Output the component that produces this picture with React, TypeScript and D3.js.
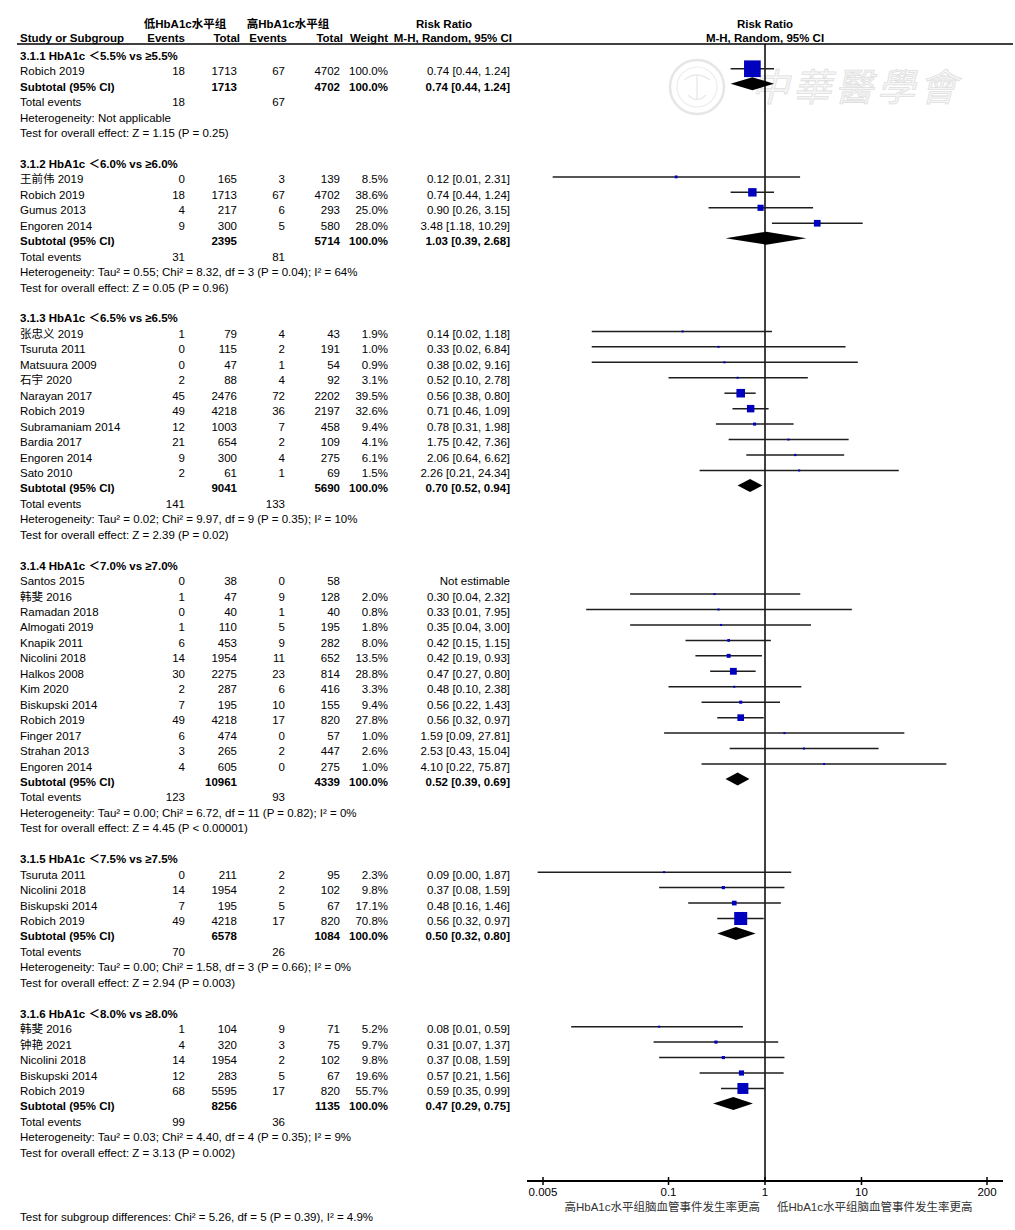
import React from "react";
import * as d3 from "d3";

// ---------- DATA ----------
const subgroupTitles = [
  "3.1.1 HbA1c ＜5.5% vs ≥5.5%",
  "3.1.2 HbA1c ＜6.0% vs ≥6.0%",
  "3.1.3 HbA1c ＜6.5% vs ≥6.5%",
  "3.1.4 HbA1c ＜7.0% vs ≥7.0%",
  "3.1.5 HbA1c ＜7.5% vs ≥7.5%",
  "3.1.6 HbA1c ＜8.0% vs ≥8.0%",
];

const studyGroup = [
  0,
  1, 1, 1, 1,
  2, 2, 2, 2, 2, 2, 2, 2, 2, 2,
  3, 3, 3, 3, 3, 3, 3, 3, 3, 3, 3, 3, 3,
  4, 4, 4, 4,
  5, 5, 5, 5, 5,
];

const studyNames = [
  "Robich 2019",
  "王前伟 2019", "Robich 2019", "Gumus 2013", "Engoren 2014",
  "张忠义 2019", "Tsuruta 2011", "Matsuura 2009", "石宇 2020", "Narayan 2017",
  "Robich 2019", "Subramaniam 2014", "Bardia 2017", "Engoren 2014", "Sato 2010",
  "Santos 2015", "韩斐 2016", "Ramadan 2018", "Almogati 2019", "Knapik 2011",
  "Nicolini 2018", "Halkos 2008", "Kim 2020", "Biskupski 2014", "Robich 2019",
  "Finger 2017", "Strahan 2013", "Engoren 2014",
  "Tsuruta 2011", "Nicolini 2018", "Biskupski 2014", "Robich 2019",
  "韩斐 2016", "钟艳 2021", "Nicolini 2018", "Biskupski 2014", "Robich 2019",
];

const lowEvents = [
  18,
  0, 18, 4, 9,
  1, 0, 0, 2, 45, 49, 12, 21, 9, 2,
  0, 1, 0, 1, 6, 14, 30, 2, 7, 49, 6, 3, 4,
  0, 14, 7, 49,
  1, 4, 14, 12, 68,
];
const lowTotals = [
  1713,
  165, 1713, 217, 300,
  79, 115, 47, 88, 2476, 4218, 1003, 654, 300, 61,
  38, 47, 40, 110, 453, 1954, 2275, 287, 195, 4218, 474, 265, 605,
  211, 1954, 195, 4218,
  104, 320, 1954, 283, 5595,
];
const highEvents = [
  67,
  3, 67, 6, 5,
  4, 2, 1, 4, 72, 36, 7, 2, 4, 1,
  0, 9, 1, 5, 9, 11, 23, 6, 10, 17, 0, 2, 0,
  2, 2, 5, 17,
  9, 3, 2, 5, 17,
];
const highTotals = [
  4702,
  139, 4702, 293, 580,
  43, 191, 54, 92, 2202, 2197, 458, 109, 275, 69,
  58, 128, 40, 195, 282, 652, 814, 416, 155, 820, 57, 447, 275,
  95, 102, 67, 820,
  71, 75, 102, 67, 820,
];
// null = not estimable
const weights: (number | null)[] = [
  100.0,
  8.5, 38.6, 25.0, 28.0,
  1.9, 1.0, 0.9, 3.1, 39.5, 32.6, 9.4, 4.1, 6.1, 1.5,
  null, 2.0, 0.8, 1.8, 8.0, 13.5, 28.8, 3.3, 9.4, 27.8, 1.0, 2.6, 1.0,
  2.3, 9.8, 17.1, 70.8,
  5.2, 9.7, 9.8, 19.6, 55.7,
];
const riskRatio: (number | null)[] = [
  0.74,
  0.12, 0.74, 0.90, 3.48,
  0.14, 0.33, 0.38, 0.52, 0.56, 0.71, 0.78, 1.75, 2.06, 2.26,
  null, 0.30, 0.33, 0.35, 0.42, 0.42, 0.47, 0.48, 0.56, 0.56, 1.59, 2.53, 4.10,
  0.09, 0.37, 0.48, 0.56,
  0.08, 0.31, 0.37, 0.57, 0.59,
];
const ciLower: (number | null)[] = [
  0.44,
  0.0063, 0.44, 0.26, 1.18,
  0.016, 0.016, 0.016, 0.10, 0.38, 0.46, 0.31, 0.42, 0.64, 0.21,
  null, 0.04, 0.014, 0.04, 0.15, 0.19, 0.27, 0.10, 0.22, 0.32, 0.09, 0.43, 0.22,
  0.0044, 0.08, 0.16, 0.32,
  0.0098, 0.07, 0.08, 0.21, 0.35,
];
const ciUpper: (number | null)[] = [
  1.24,
  2.31, 1.24, 3.15, 10.29,
  1.18, 6.84, 9.16, 2.78, 0.80, 1.09, 1.98, 7.36, 6.62, 24.34,
  null, 2.32, 7.95, 3.00, 1.15, 0.93, 0.80, 2.38, 1.43, 0.97, 27.81, 15.04, 75.87,
  1.87, 1.59, 1.46, 0.97,
  0.59, 1.37, 1.59, 1.56, 0.99,
];

const subLowTotals = [1713, 2395, 9041, 10961, 6578, 8256];
const subHighTotals = [4702, 5714, 5690, 4339, 1084, 1135];
const subRR = [0.74, 1.03, 0.70, 0.52, 0.50, 0.47];
const subLower = [0.44, 0.39, 0.52, 0.39, 0.32, 0.29];
const subUpper = [1.24, 2.68, 0.94, 0.69, 0.80, 0.75];
const subLowEvents = [18, 31, 141, 123, 70, 99];
const subHighEvents = [67, 81, 133, 93, 26, 36];
const heterogeneity = [
  "Heterogeneity: Not applicable",
  "Heterogeneity: Tau² = 0.55; Chi² = 8.32, df = 3 (P = 0.04); I² = 64%",
  "Heterogeneity: Tau² = 0.02; Chi² = 9.97, df = 9 (P = 0.35); I² = 10%",
  "Heterogeneity: Tau² = 0.00; Chi² = 6.72, df = 11 (P = 0.82); I² = 0%",
  "Heterogeneity: Tau² = 0.00; Chi² = 1.58, df = 3 (P = 0.66); I² = 0%",
  "Heterogeneity: Tau² = 0.03; Chi² = 4.40, df = 4 (P = 0.35); I² = 9%",
];
const overallEffect = [
  "Test for overall effect: Z = 1.15 (P = 0.25)",
  "Test for overall effect: Z = 0.05 (P = 0.96)",
  "Test for overall effect: Z = 2.39 (P = 0.02)",
  "Test for overall effect: Z = 4.45 (P < 0.00001)",
  "Test for overall effect: Z = 2.94 (P = 0.003)",
  "Test for overall effect: Z = 3.13 (P = 0.002)",
];
const subgroupDifferences = "Test for subgroup differences: Chi² = 5.26, df = 5 (P = 0.39), I² = 4.9%";

const axisTicks = [0.005, 0.1, 1, 10, 200];
const axisTickLabels = ["0.005", "0.1", "1", "10", "200"];
const groupHeaderLow = "低HbA1c水平组";
const groupHeaderHigh = "高HbA1c水平组";
const favoursLeft = "高HbA1c水平组脑血管事件发生率更高";
const favoursRight = "低HbA1c水平组脑血管事件发生率更高";
const watermarkText = "中華醫學會";

// ---------- LAYOUT ----------
const W = 1015;
const H = 1230;
const FONT = "'Liberation Sans', Arial, 'Noto Sans CJK SC', sans-serif";
const FS = 11.5;
const ROW0 = 55.8;
const STEP = 15.45;
const rowC = (i: number) => ROW0 + i * STEP;
const COL = { name: 20, e1: 185, t1: 237, e2: 285, t2: 340, w: 388, rr: 509 };
const AXIS_Y = 1181;
const HEADER_LINE_Y = 44;
const HEAD1 = 23.5;
const HEAD2 = 37.5;

const x = d3.scaleLog().domain([0.005, 200]).range([543, 987]);

const fmtCI = (r: number, l: number, u: number) =>
  `${r.toFixed(2)} [${l.toFixed(2)}, ${u.toFixed(2)}]`;

type Row =
  | { kind: "title"; i: number; g: number }
  | { kind: "study"; i: number; s: number }
  | { kind: "subtotal"; i: number; g: number }
  | { kind: "events"; i: number; g: number }
  | { kind: "het"; i: number; g: number }
  | { kind: "test"; i: number; g: number };

function buildRows(): Row[] {
  const rows: Row[] = [];
  let idx = 0;
  subgroupTitles.forEach((_, g) => {
    rows.push({ kind: "title", i: idx++, g });
    studyGroup.forEach((sg, s) => {
      if (sg === g) rows.push({ kind: "study", i: idx++, s });
    });
    rows.push({ kind: "subtotal", i: idx++, g });
    rows.push({ kind: "events", i: idx++, g });
    rows.push({ kind: "het", i: idx++, g });
    rows.push({ kind: "test", i: idx++, g });
    idx++; // blank
  });
  return rows;
}

const boxSide = (w: number) => Math.max(2, 16.7 * Math.pow(w / 100, 0.72));

function Txt(props: {
  x: number; y: number; children: React.ReactNode; anchor?: string; bold?: boolean; size?: number; fill?: string;
}) {
  const { x: tx, y, children, anchor = "start", bold = false, size = FS, fill = "#000" } = props;
  return (
    <text x={tx} y={y + 4} textAnchor={anchor} fontWeight={bold ? "bold" : "normal"} fontSize={size} fill={fill}>
      {children}
    </text>
  );
}

export default function App() {
  const rows = buildRows();
  const x1 = x(1);
  const lastIdx = rows[rows.length - 1].i;

  return (
    <svg
      width={W}
      height={H}
      viewBox={`0 0 ${W} ${H}`}
      style={{ position: "absolute", left: 0, top: 0, display: "block", background: "#fff" }}
      fontFamily={FONT}
    >
      <rect x={0} y={0} width={W} height={H} fill="#fff" />

      {/* watermark */}
      <g>
        <circle cx={697} cy={87} r={27} fill="none" stroke="#e6e6e6" strokeWidth={2.5} />
        <circle cx={697} cy={87} r={20} fill="none" stroke="#ececec" strokeWidth={1.2} />
        <path d="M684,80 Q697,70 710,80 M688,95 Q697,104 706,95 M697,74 L697,100" fill="none" stroke="#eaeaea" strokeWidth={1.5} />
        <text x={856} y={101} textAnchor="middle" fontSize={38} fill="#f6f6f6" stroke="#e0e0e0" strokeWidth={0.8}
          fontStyle="italic" fontFamily="'Noto Sans CJK TC', 'Noto Sans CJK SC', sans-serif" letterSpacing={4}>
          {watermarkText}
        </text>
      </g>

      {/* column headers */}
      <Txt x={185} y={HEAD1} anchor="middle" bold>{groupHeaderLow}</Txt>
      <Txt x={288} y={HEAD1} anchor="middle" bold>{groupHeaderHigh}</Txt>
      <Txt x={444} y={HEAD1} anchor="middle" bold>Risk Ratio</Txt>
      <Txt x={x1} y={HEAD1} anchor="middle" bold>Risk Ratio</Txt>
      <Txt x={COL.name} y={HEAD2} bold>Study or Subgroup</Txt>
      <Txt x={185} y={HEAD2} anchor="end" bold>Events</Txt>
      <Txt x={240} y={HEAD2} anchor="end" bold>Total</Txt>
      <Txt x={287} y={HEAD2} anchor="end" bold>Events</Txt>
      <Txt x={343} y={HEAD2} anchor="end" bold>Total</Txt>
      <Txt x={388} y={HEAD2} anchor="end" bold>Weight</Txt>
      <Txt x={512} y={HEAD2} anchor="end" bold>M-H, Random, 95% CI</Txt>
      <Txt x={x1} y={HEAD2} anchor="middle" bold>M-H, Random, 95% CI</Txt>
      <line x1={17} x2={1013} y1={HEADER_LINE_Y} y2={HEADER_LINE_Y} stroke="#000" strokeWidth={1.5} />

      {/* null line */}
      <line x1={x1} x2={x1} y1={HEADER_LINE_Y} y2={AXIS_Y} stroke="#000" strokeWidth={1.5} />

      {rows.map((r, k) => {
        const cy = rowC(r.i);
        if (r.kind === "title") {
          return <Txt key={k} x={COL.name} y={cy} bold>{subgroupTitles[r.g]}</Txt>;
        }
        if (r.kind === "study") {
          const s = r.s;
          const w = weights[s];
          const rr = riskRatio[s];
          const lo = ciLower[s];
          const hi = ciUpper[s];
          const my = cy - 2.5;
          const side = w != null ? boxSide(w) : 0;
          return (
            <g key={k}>
              <Txt x={COL.name} y={cy}>{studyNames[s]}</Txt>
              <Txt x={COL.e1} y={cy} anchor="end">{lowEvents[s]}</Txt>
              <Txt x={COL.t1} y={cy} anchor="end">{lowTotals[s]}</Txt>
              <Txt x={COL.e2} y={cy} anchor="end">{highEvents[s]}</Txt>
              <Txt x={COL.t2} y={cy} anchor="end">{highTotals[s]}</Txt>
              {w != null && <Txt x={COL.w} y={cy} anchor="end">{w.toFixed(1) + "%"}</Txt>}
              <Txt x={COL.rr + 1} y={cy} anchor="end">
                {rr != null && lo != null && hi != null ? fmtCI(rr, lo, hi) : "Not estimable"}
              </Txt>
              {rr != null && lo != null && hi != null && w != null && (
                <g>
                  <line x1={x(lo)} x2={x(hi)} y1={my} y2={my} stroke="#1e1e1e" strokeWidth={1.5} />
                  <rect x={x(rr) - side / 2} y={my - side / 2} width={side} height={side} fill="#0000bf" />
                </g>
              )}
            </g>
          );
        }
        if (r.kind === "subtotal") {
          const g = r.g;
          const my = cy - 3;
          const hh = 6.5;
          const pts = [
            [x(subLower[g]), my],
            [x(subRR[g]), my - hh],
            [x(subUpper[g]), my],
            [x(subRR[g]), my + hh],
          ];
          return (
            <g key={k}>
              <Txt x={COL.name} y={cy} bold>Subtotal (95% CI)</Txt>
              <Txt x={COL.t1} y={cy} anchor="end" bold>{subLowTotals[g]}</Txt>
              <Txt x={COL.t2} y={cy} anchor="end" bold>{subHighTotals[g]}</Txt>
              <Txt x={COL.w} y={cy} anchor="end" bold>100.0%</Txt>
              <Txt x={COL.rr + 1} y={cy} anchor="end" bold>{fmtCI(subRR[g], subLower[g], subUpper[g])}</Txt>
              <polygon points={pts.map((p) => p.join(",")).join(" ")} fill="#000" />
            </g>
          );
        }
        if (r.kind === "events") {
          return (
            <g key={k}>
              <Txt x={COL.name} y={cy}>Total events</Txt>
              <Txt x={COL.e1} y={cy} anchor="end">{subLowEvents[r.g]}</Txt>
              <Txt x={COL.e2} y={cy} anchor="end">{subHighEvents[r.g]}</Txt>
            </g>
          );
        }
        if (r.kind === "het") {
          return <Txt key={k} x={COL.name} y={cy}>{heterogeneity[r.g]}</Txt>;
        }
        return <Txt key={k} x={COL.name} y={cy}>{overallEffect[r.g]}</Txt>;
      })}

      <Txt x={COL.name} y={rowC(lastIdx + 4) + 2.5}>{subgroupDifferences}</Txt>

      {/* axis */}
      <line x1={x(0.005) - 16} x2={x(200) + 16} y1={AXIS_Y} y2={AXIS_Y} stroke="#000" strokeWidth={2} />
      {axisTicks.map((t, i) => (
        <g key={t}>
          <line x1={x(t)} x2={x(t)} y1={AXIS_Y - 4} y2={AXIS_Y + 4} stroke="#000" strokeWidth={1.5} />
          <Txt x={x(t)} y={1191.5} anchor="middle">{axisTickLabels[i]}</Txt>
        </g>
      ))}
      <Txt x={760} y={1206.5} anchor="end" fill="#333">{favoursLeft}</Txt>
      <Txt x={777} y={1206.5} fill="#333">{favoursRight}</Txt>
    </svg>
  );
}
